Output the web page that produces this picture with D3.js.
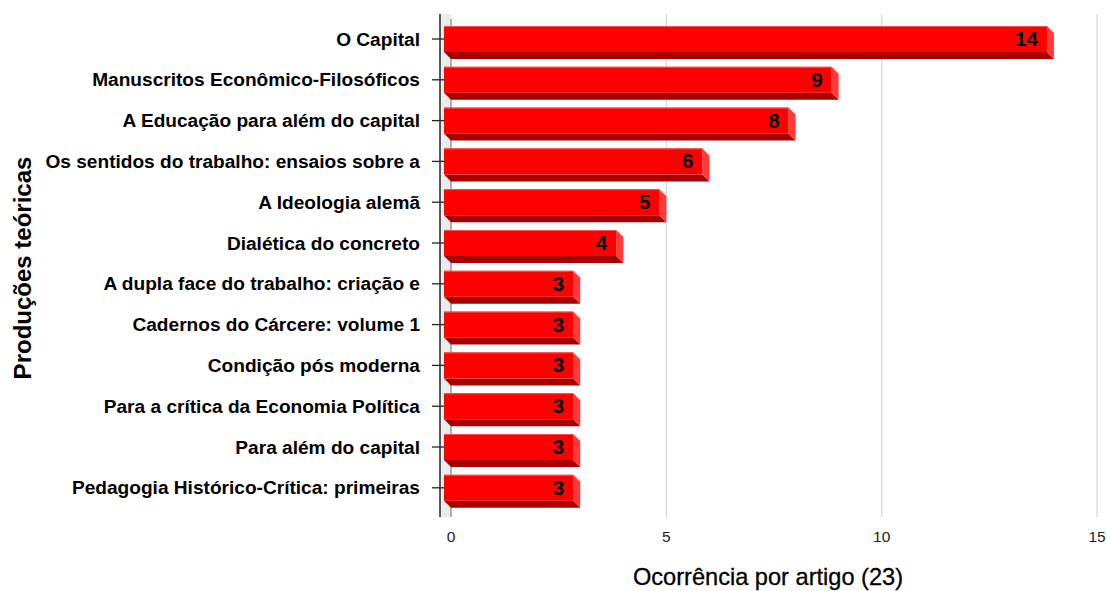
<!DOCTYPE html>
<html><head><meta charset="utf-8">
<script src="https://cdn.jsdelivr.net/npm/d3@7"></script>
<style>body{margin:0;background:#fff}svg{display:block}text{font-family:"Liberation Sans",Arial,sans-serif}</style>
</head><body><svg id="c" width="1107" height="591"></svg>
<script>
const categories = ["O Capital","Manuscritos Econômico-Filosóficos","A Educação para além do capital","Os sentidos do trabalho: ensaios sobre a","A Ideologia alemã","Dialética do concreto","A dupla face do trabalho: criação e","Cadernos do Cárcere: volume 1","Condição pós moderna","Para a crítica da Economia Política","Para além do capital","Pedagogia Histórico-Crítica: primeiras"];
const values = [14,9,8,6,5,4,3,3,3,3,3,3];
const xTicks = [0,5,10,15];
const xTitle = "Ocorrência por artigo (23)";
const yTitle = "Produções teóricas";

const svg = d3.select("#c");
const x = d3.scaleLinear().domain([0,15]).range([451,1097]);
const step = 40.8, c0 = 39;
const y = d3.scaleBand().domain(categories)
  .range([c0 - step/2, c0 - step/2 + step*categories.length])
  .paddingInner(1-26/step).paddingOuter((1-26/step)/2);
const dx = 7, dy = 7;
const plotTop = 14, plotBottom = 517;

// wall
svg.append("rect").attr("x",440).attr("y",plotTop).attr("width",11).attr("height",plotBottom-plotTop).attr("fill","#ececec");
// gridlines
svg.append("g").selectAll("line").data(xTicks.filter(d=>d>0)).join("line")
  .attr("x1",d=>x(d)).attr("x2",d=>x(d)).attr("y1",plotTop).attr("y2",plotBottom)
  .attr("stroke","#d9d9d9").attr("stroke-width",1.3);
svg.append("line").attr("x1",x(0)).attr("x2",x(0)).attr("y1",plotTop+5).attr("y2",plotBottom)
  .attr("stroke","#8a8a8a").attr("stroke-width",1.3);

// y ticks
svg.append("g").selectAll("line").data(categories).join("line")
  .attr("x1",432).attr("x2",446).attr("y1",d=>y(d)+y.bandwidth()/2).attr("y2",d=>y(d)+y.bandwidth()/2)
  .attr("stroke","#222").attr("stroke-width",1.3);

// bars
const g = svg.append("g");
categories.forEach((c,i)=>{
  const v = values[i];
  const y0 = y(c), h = y.bandwidth();
  const xf0 = x(0)-dx, xf1 = x(v)-dx;
  g.append("path").attr("d",`M${xf0},${y0+h}L${xf1},${y0+h}L${xf1+dx},${y0+h+dy}L${xf0+dx},${y0+h+dy}Z`).attr("fill","#a80000");
  g.append("path").attr("d",`M${xf1},${y0}L${xf1+dx},${y0+dy}L${xf1+dx},${y0+h+dy}L${xf1},${y0+h}Z`).attr("fill","#ff3a3a");
  g.append("rect").attr("x",xf0).attr("y",y0).attr("width",xf1-xf0).attr("height",h).attr("fill","#ff0000");
  g.append("line").attr("x1",xf0).attr("x2",xf1).attr("y1",y0+0.5).attr("y2",y0+0.5).attr("stroke","#ff4d4d").attr("stroke-width",1);
  g.append("text").attr("x",xf1-9).attr("y",y0+h/2+7).attr("text-anchor","end")
    .attr("font-size",20.5).attr("font-weight","bold").attr("fill","#000").text(v);
});

// axis line
svg.append("line").attr("x1",440).attr("x2",440).attr("y1",plotTop).attr("y2",plotBottom).attr("stroke","#333").attr("stroke-width",1.6);

// category labels
svg.append("g").selectAll("text").data(categories).join("text")
  .attr("x",420).attr("y",d=>y(d)+y.bandwidth()/2+6.5).attr("text-anchor","end")
  .attr("font-size",19.1).attr("font-weight","bold").attr("fill","#000").text(d=>d);

// x tick labels
svg.append("g").selectAll("text").data(xTicks).join("text")
  .attr("x",d=>x(d)).attr("y",542).attr("text-anchor","middle")
  .attr("font-size",15.5).attr("fill","#222").text(d=>d);

// titles
svg.append("text").attr("x",768).attr("y",585).attr("text-anchor","middle")
  .attr("font-size",23.6).attr("fill","#000").attr("stroke","#000").attr("stroke-width",0.3).text(xTitle);
svg.append("text").attr("transform","translate(31,268) rotate(-90)").attr("text-anchor","middle")
  .attr("font-size",24).attr("font-weight","bold").attr("fill","#000").text(yTitle);
</script></body></html>
